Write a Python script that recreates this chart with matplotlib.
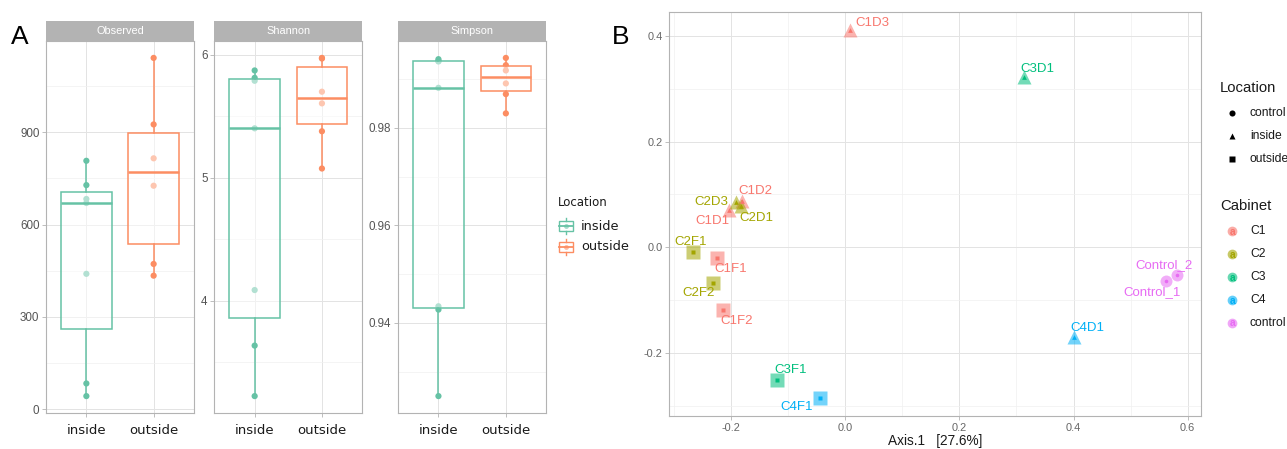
import matplotlib
matplotlib.use("Agg")
import matplotlib.pyplot as plt
from matplotlib.patches import Rectangle

W, H = 1287, 449

# ---------------- alpha diversity data ----------------
groups = ["inside", "outside"]
observed_inside = [43, 84, 440, 670, 683, 728, 807]
observed_outside = [434, 472, 726, 815, 925, 1141]
shannon_inside = [3.223, 3.634, 4.086, 5.402, 5.789, 5.813, 5.873]
shannon_outside = [5.075, 5.378, 5.605, 5.700, 5.970, 5.975]
simpson_inside = [0.92499, 0.94272, 0.94340, 0.98818, 0.99358, 0.99370, 0.99405]
simpson_outside = [0.98294, 0.98689, 0.98908, 0.99174, 0.99282, 0.99431]

observed_ticks = [0, 300, 600, 900]
observed_minor = [150, 450, 750, 1050]
shannon_ticks = [4, 5, 6]
shannon_minor = [3.5, 4.5, 5.5]
simpson_ticks = [0.94, 0.96, 0.98]
simpson_minor = [0.93, 0.95, 0.97, 0.99]

# ---------------- ordination data ----------------
samples = ["C1D1", "C1D2", "C1D3", "C1F1", "C1F2", "C2D1", "C2D3", "C2F1",
           "C2F2", "C3D1", "C3F1", "C4D1", "C4F1", "Control_1", "Control_2"]
cabinet = ["C1", "C1", "C1", "C1", "C1", "C2", "C2", "C2",
           "C2", "C3", "C3", "C4", "C4", "control", "control"]
location = ["inside", "inside", "inside", "outside", "outside", "inside", "inside", "outside",
            "outside", "inside", "outside", "inside", "outside", "control", "control"]
axis1 = [-0.2035, -0.181, 0.0075, -0.225, -0.214, -0.183, -0.191, -0.266,
         -0.2325, 0.314, -0.120, 0.401, -0.045, 0.562, 0.5815]
axis2 = [0.0713, 0.0874, 0.4113, -0.0196, -0.1196, 0.078, 0.086, -0.0083,
         -0.0679, 0.3232, -0.2517, -0.1698, -0.2849, -0.0649, -0.0523]
cabinet_levels = ["C1", "C2", "C3", "C4", "control"]
location_levels = ["control", "inside", "outside"]
x_ticks_b = [-0.2, 0.0, 0.2, 0.4, 0.6]
y_ticks_b = [-0.2, 0.0, 0.2, 0.4]

# ---------------- styling ----------------
group_colors = {"inside": "#66C2A5", "outside": "#FC8D62"}
cab_colors = {"C1": "#F8766D", "C2": "#A3A500", "C3": "#00BF7D",
              "C4": "#00B0F6", "control": "#E76BF3"}
loc_markers = {"control": "o", "inside": "^", "outside": "s"}
big_size = {"control": 8.6, "inside": 10.5, "outside": 9.4}
small_size = {"control": 2.6, "inside": 3.4, "outside": 2.8}

# label offsets (pixels, x right / y up) for the ordination text labels
label_offsets = {
    "C1D3": (23, 7.5), "C3D1": (13, 8), "C1D2": (13, 10), "C2D3": (-25, 0),
    "C2D1": (15.5, -11.7), "C1D1": (-16.5, -11.5), "C2F1": (-3, 10),
    "C1F1": (13.5, -11), "C2F2": (-14, -10), "C1F2": (13.7, -10.3),
    "C3F1": (13.7, 10), "C4F1": (-22.5, -9), "C4D1": (13.5, 9.3),
    "Control_2": (-13.5, 10), "Control_1": (-14, -11),
}

BORDER = "#B3B3B3"
GRID_MAJOR = "#E3E3E3"
GRID_MINOR = "#F0F0F0"
SANS = ["Liberation Sans", "DejaVu Sans"]
WIDE = ["DejaVu Sans"]

fig = plt.figure(figsize=(W / 100, H / 100), dpi=100)


def px_axes(x0, y0, x1, y1, **kw):
    return fig.add_axes([x0 / W, 1 - y1 / H, (x1 - x0) / W, (y1 - y0) / H], **kw)


def expand(vals, frac=0.05):
    lo, hi = min(vals), max(vals)
    d = (hi - lo) * frac
    return lo - d, hi + d


def style_axes(ax):
    for s in ax.spines.values():
        s.set_color(BORDER)
        s.set_linewidth(0.8)
    ax.tick_params(which="major", length=2.75, color=BORDER, width=0.6)
    ax.tick_params(which="minor", length=0)
    ax.grid(True, which="major", color=GRID_MAJOR, lw=0.7, zorder=0)
    ax.grid(True, which="minor", color=GRID_MINOR, lw=0.5, zorder=0)
    ax.set_axisbelow(True)


# ---------------- panel A: alpha diversity ----------------
panels = [
    ("Observed", observed_inside, observed_outside, (46, 194),
     observed_ticks, observed_minor, [str(t) for t in observed_ticks]),
    ("Shannon", shannon_inside, shannon_outside, (214.3, 362.3),
     shannon_ticks, shannon_minor, [str(t) for t in shannon_ticks]),
    ("Simpson", simpson_inside, simpson_outside, (398, 546.3),
     simpson_ticks, simpson_minor, [f"{t:.2f}" for t in simpson_ticks]),
]

for title, v_in, v_out, (x0, x1), ticks, minor, ticklabels in panels:
    ax = px_axes(x0, 41, x1, 413)
    style_axes(ax)
    data = [v_in, v_out]
    for i, (g, vals) in enumerate(zip(groups, data), start=1):
        ax.scatter([i] * len(vals), vals, s=20, color=group_colors[g],
                   edgecolors="none", zorder=2)
        ax.boxplot([vals], positions=[i], widths=0.75, patch_artist=True,
                   showcaps=False, showfliers=False, zorder=3,
                   boxprops=dict(facecolor=(1, 1, 1, 0.5),
                                 edgecolor=group_colors[g], lw=1.1),
                   whiskerprops=dict(color=group_colors[g], lw=1.1),
                   medianprops=dict(color=group_colors[g], lw=1.8))
    ax.set_xlim(0.4, 2.6)
    ax.set_ylim(*expand(v_in + v_out))
    ax.set_xticks([1, 2])
    ax.set_xticklabels(groups, fontfamily=WIDE, fontsize=9.5, color="#1A1A1A")
    ax.set_yticks(ticks)
    ax.set_yticks(minor, minor=True)
    ax.set_yticklabels(ticklabels, fontfamily=SANS, fontsize=8.4, color="#555555")
    ax.tick_params(axis="x", pad=5)
    ax.tick_params(axis="y", pad=2)

    strip = px_axes(x0, 21, x1, 41)
    strip.set_xlim(0, 1)
    strip.set_ylim(0, 1)
    strip.set_facecolor("#B3B3B3")
    for s in strip.spines.values():
        s.set_visible(False)
    strip.set_xticks([])
    strip.set_yticks([])
    strip.text(0.5, 0.5, title, ha="center", va="center", color="white",
               fontfamily=SANS, fontsize=7.9)

# ---------------- panel B: ordination ----------------
axb = px_axes(669.3, 11.7, 1201.3, 416)
style_axes(axb)
for name, cab, loc, x, y in zip(samples, cabinet, location, axis1, axis2):
    c = cab_colors[cab]
    m = loc_markers[loc]
    axb.plot([x], [y], marker=m, ms=big_size[loc], color=c, alpha=0.55,
             mec="none", ls="none", zorder=3)
    axb.plot([x], [y], marker=m, ms=small_size[loc], color=c,
             mec="none", ls="none", zorder=4)
    dx, dy = label_offsets[name]
    axb.annotate(name, (x, y), xytext=(dx, dy), textcoords="offset pixels",
                 ha="center", va="center", color=c, fontfamily=SANS,
                 fontsize=9.5, zorder=5)

axb.set_xlim(*expand(axis1))
axb.set_ylim(*expand(axis2))
axb.set_xticks(x_ticks_b)
axb.set_xticks([-0.3, -0.1, 0.1, 0.3, 0.5], minor=True)
axb.set_yticks(y_ticks_b)
axb.set_yticks([-0.3, -0.1, 0.1, 0.3], minor=True)
axb.set_xticklabels([f"{t:.1f}" for t in x_ticks_b], fontfamily=SANS,
                    fontsize=7.9, color="#666666")
axb.set_yticklabels([f"{t:.1f}" for t in y_ticks_b], fontfamily=SANS,
                    fontsize=7.9, color="#666666")
axb.tick_params(axis="both", pad=2)
axb.set_xlabel("Axis.1   [27.6%]", fontfamily=SANS, fontsize=9.8,
               color="#1A1A1A", labelpad=1)

# ---------------- overlay: panel letters and legends ----------------
ov = fig.add_axes([0, 0, 1, 1], zorder=10)
ov.set_xlim(0, W)
ov.set_ylim(H, 0)
ov.axis("off")
ov.patch.set_alpha(0)

ov.text(11, 37, "A", fontfamily=SANS, fontsize=19, va="center", ha="left", color="black")
ov.text(612, 37, "B", fontfamily=SANS, fontsize=19, va="center", ha="left", color="black")

# legend for the boxplots
ov.text(558, 203, "Location", fontfamily=WIDE, fontsize=8.5, va="center",
        ha="left", color="#1A1A1A")
for g, yc in zip(groups, [226, 247]):
    c = group_colors[g]
    ov.add_patch(Rectangle((558.5, yc - 5), 14, 10, facecolor="white",
                           edgecolor=c, lw=1.0))
    ov.plot([558.5, 572.5], [yc, yc], color=c, lw=1.3)
    ov.plot([565.5, 565.5], [yc - 8, yc - 5], color=c, lw=1.0)
    ov.plot([565.5, 565.5], [yc + 5, yc + 8], color=c, lw=1.0)
    ov.plot([565.5], [yc], marker="o", ms=3.5, color=c, alpha=0.6, mec="none")
    ov.text(581, yc, g, fontfamily=WIDE, fontsize=9.3, va="center",
            ha="left", color="#1A1A1A")

# legends for the ordination
ov.text(1220, 88, "Location", fontfamily=SANS, fontsize=10.7, va="center",
        ha="left", color="#1A1A1A")
for loc, yc in zip(location_levels, [113.3, 136, 159]):
    ov.plot([1231.7], [yc], marker=loc_markers[loc], ms=4.4, color="black",
            mec="none", ls="none")
    ov.text(1250, yc, loc, fontfamily=SANS, fontsize=8.7, va="center",
            ha="left", color="#1A1A1A")

ov.text(1220, 205.7, "Cabinet", fontfamily=SANS, fontsize=10.7, va="center",
        ha="left", color="#1A1A1A")
for cab, yc in zip(cabinet_levels, [231.3, 254.3, 277, 300, 322.7]):
    c = cab_colors[cab]
    ov.plot([1231.7], [yc], marker="o", ms=7, color=c, alpha=0.6,
            mec="none", ls="none")
    ov.text(1232.5, yc + 0.8, "a", fontfamily=SANS, fontsize=7.5, va="center",
            ha="center", color=c, fontweight="bold")
    ov.text(1250, yc, cab, fontfamily=SANS, fontsize=8.7, va="center",
            ha="left", color="#1A1A1A")

fig.savefig("out.png", dpi=100)
